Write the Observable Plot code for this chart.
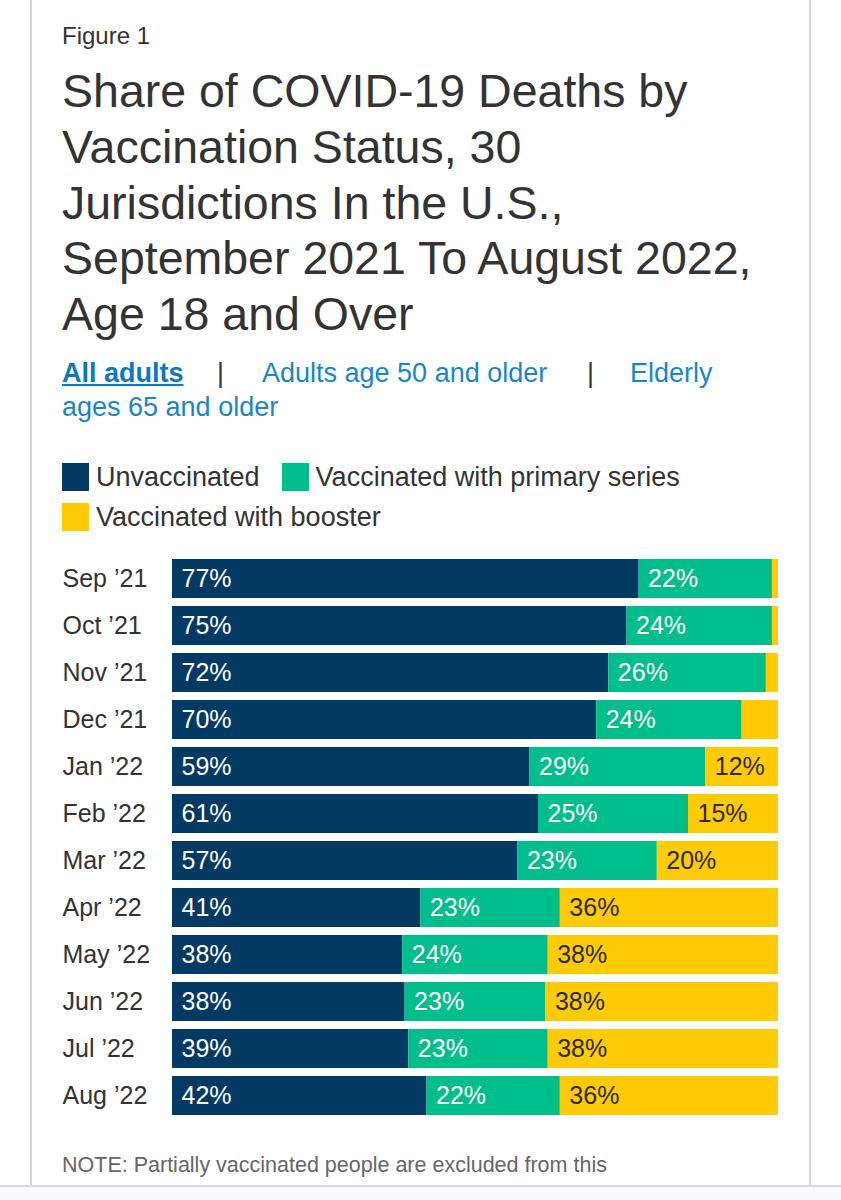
<!DOCTYPE html>
<html><head><meta charset="utf-8">
<script src="https://cdn.jsdelivr.net/npm/d3@7"></script>
<script src="https://cdn.jsdelivr.net/npm/@observablehq/plot@0.6"></script>
<style>
html,body{margin:0;padding:0;background:#fff;}
body{width:841px;height:1200px;position:relative;overflow:hidden;font-family:"Liberation Sans",Arial,Helvetica,sans-serif;color:#333;}
.abs{position:absolute;white-space:nowrap;}
.card-l{position:absolute;left:30px;top:0;width:2px;height:1186px;background:#d6d6d6;}
.card-r{position:absolute;left:809px;top:0;width:2px;height:1186px;background:#d6d6d6;}
.bottom{position:absolute;left:0;top:1185px;width:841px;height:2px;background:#d3dae3;}
.below{position:absolute;left:0;top:1187px;width:841px;height:13px;background:#fafbfc;}
#fig{left:62px;top:22px;font-size:24px;line-height:28.8px;}
#title{left:62px;top:64px;font-size:46.5px;line-height:55.8px;}
.lnk{font-size:27px;line-height:34px;color:#1a86c8;}
.sep{font-size:27px;line-height:34px;color:#333;}
#legend .row{position:absolute;left:62px;height:30px;font-size:27px;line-height:30px;display:flex;align-items:center;}
#legend .sw{display:inline-block;width:27px;height:28px;margin-right:7px;}
#legend .item{display:flex;align-items:center;margin-right:22px;}
#note{left:62px;top:1151.5px;font-size:21.5px;line-height:26px;color:#666;}
#chart{position:absolute;left:0;top:547.5px;}
</style>
</head>
<body>
<div class="card-l"></div><div class="card-r"></div>
<div class="bottom"></div><div class="below"></div>
<div id="fig" class="abs">Figure 1</div>
<div id="title" class="abs">Share of COVID-19 Deaths by<br>Vaccination Status, 30<br>Jurisdictions In the U.S.,<br>September 2021 To August 2022,<br>Age 18 and Over</div>
<div class="abs lnk" style="left:62px;top:355.6px;font-weight:bold;text-decoration:underline;color:#0d78bd;">All adults</div>
<div class="abs sep" style="left:217px;top:355.6px;">|</div>
<div class="abs lnk" style="left:262px;top:355.6px;">Adults age 50 and older</div>
<div class="abs sep" style="left:587px;top:355.6px;">|</div>
<div class="abs lnk" style="left:630px;top:355.6px;">Elderly</div>
<div class="abs lnk" style="left:62px;top:389.6px;">ages 65 and older</div>
<div id="legend"></div>
<div id="chart"></div>
<div id="note" class="abs">NOTE: Partially vaccinated people are excluded from this</div>
<script>
const months = ["Sep ’21","Oct ’21","Nov ’21","Dec ’21","Jan ’22","Feb ’22","Mar ’22","Apr ’22","May ’22","Jun ’22","Jul ’22","Aug ’22"];
const statuses = ["Unvaccinated","Vaccinated with primary series","Vaccinated with booster"];
const colors = ["#033a63","#00be8b","#ffcb05"];
const unvaccinated = [77,75,72,70,59,61,57,41,38,38,39,42];
const primarySeries = [22,24,26,24,29,25,23,23,24,23,23,22];
const booster = [1,1,2,6,12,15,20,36,38,38,38,36];
const legendRows = [[0,1],[2]];

const series = [unvaccinated, primarySeries, booster];
const data = months.flatMap((m, i) => statuses.map((s, j) => ({month: m, status: s, value: series[j][i]})));

// Legend
const legend = document.getElementById("legend");
legendRows.forEach((row, r) => {
  const div = document.createElement("div");
  div.className = "row";
  div.style.top = (462 + r * 40) + "px";
  row.forEach(j => {
    const item = document.createElement("span");
    item.className = "item";
    item.innerHTML = `<span class="sw" style="background:${colors[j]}"></span>${statuses[j]}`;
    div.appendChild(item);
  });
  legend.appendChild(div);
});

const labelText = (keep) => d => (keep(d) && d.value >= 10) ? `${d.value}%` : null;

const chart = Plot.plot({
  width: 841,
  height: 578,
  marginTop: 10,
  marginBottom: 10.5,
  marginLeft: 172,
  marginRight: 63,
  x: {domain: [0, 1], axis: null},
  y: {domain: months, paddingInner: 0.17, paddingOuter: 0, axis: null},
  color: {domain: statuses, range: colors},
  style: {fontFamily: "'Liberation Sans', Arial, Helvetica, sans-serif", fontSize: "25px", color: "#333", background: "transparent"},
  marks: [
    Plot.barX(data, Plot.stackX({x: "value", y: "month", fill: "status", offset: "normalize", order: statuses})),
    Plot.text(data, Plot.stackX1({x: "value", y: "month", z: "status", offset: "normalize", order: statuses,
      text: labelText(d => d.status !== statuses[2]), textAnchor: "start", dx: 9, fill: "white"})),
    Plot.text(data, Plot.stackX1({x: "value", y: "month", z: "status", offset: "normalize", order: statuses,
      text: labelText(d => d.status === statuses[2]), textAnchor: "start", dx: 9, fill: "#2b2b2b"})),
    Plot.text(months, {y: d => d, text: d => d, frameAnchor: "left", textAnchor: "start", dx: -110, fill: "#333"})
  ]
});
document.getElementById("chart").appendChild(chart);
</script>
</body></html>
